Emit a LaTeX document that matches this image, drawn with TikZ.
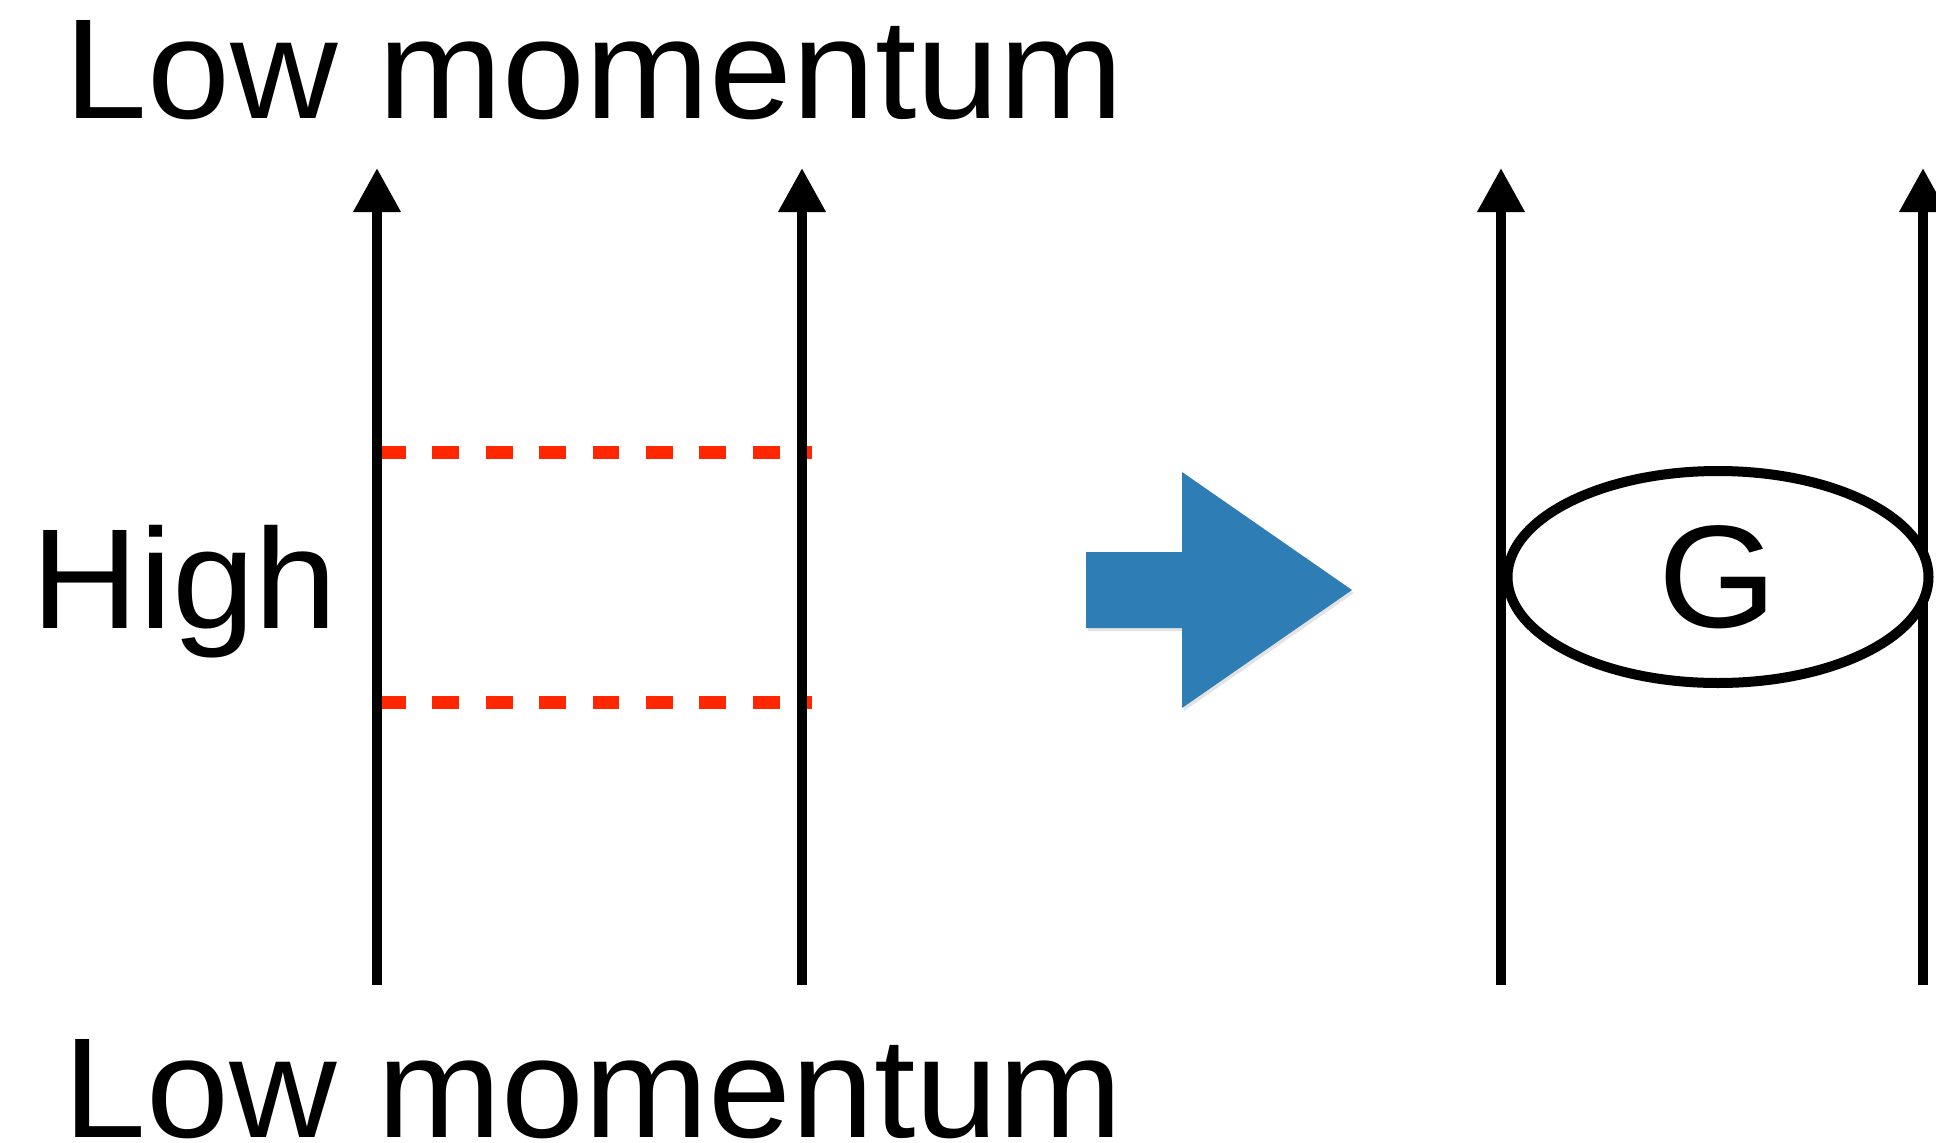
\documentclass[tikz,border=0pt]{standalone}
\usepackage{fontspec}
\setmainfont{Liberation Sans}[FakeStretch=1.045]
\usetikzlibrary{arrows.meta,shapes.geometric,shadows}
\definecolor{dashred}{RGB}{255,38,0}
\definecolor{arrowblue}{RGB}{46,125,180}
\tikzset{
  wire/.style={line width=10pt,-{Triangle[length=44pt,width=45pt]}},
  redlink/.style={line width=13pt,dashred,dash pattern=on 26.7pt off 26.7pt},
  bigtext/.style={inner sep=0pt,outer sep=0pt,anchor=base west,font=\fontsize{142.5}{150}\selectfont},
  vertex/.style={ellipse,draw=black,line width=10pt,fill=white,inner sep=0pt,
    minimum width=421pt,minimum height=212pt,font=\fontsize{146}{150}\selectfont,
    drop shadow={opacity=0.18,shadow xshift=0pt,shadow yshift=-4pt}},
  fatarrow/.style={fill=arrowblue,draw=none,
    drop shadow={opacity=0.22,shadow xshift=2pt,shadow yshift=-3pt}}
}
\begin{document}
\begin{tikzpicture}[x=1pt,y=-1pt]
\useasboundingbox[fill=white] (0,0) rectangle (1936,1143);

% labels
\node[bigtext] (lowtop) at (64.6,118) {Low momentum};
\node[bigtext] (lowbot) at (63.5,1137) {Low momentum};
\node[bigtext] (high) at (31.5,628) {High};

% left diagram coordinates
\coordinate (a1b) at (377,985);
\coordinate (a1t) at (377,168);
\coordinate (a2b) at (802,985);
\coordinate (a2t) at (802,168);
\coordinate (d1s) at (379,452);
\coordinate (d1e) at (812,452);
\coordinate (d2s) at (379,702);
\coordinate (d2e) at (812,702);

\draw[redlink] (d1s) -- (d1e);
\draw[redlink] (d2s) -- (d2e);
\draw[wire] (a1b) -- (a1t);
\draw[wire] (a2b) -- (a2t);

% blue arrow
\path[fatarrow] (1086,552) -- (1182,552) -- (1182,472) -- (1352,590)
  -- (1182,708) -- (1182,628) -- (1086,628) -- cycle;

% right diagram
\coordinate (b1b) at (1501,985);
\coordinate (b1t) at (1501,168);
\coordinate (b2b) at (1923,985);
\coordinate (b2t) at (1923,168);
\draw[wire] (b1b) -- (b1t);
\draw[wire] (b2b) -- (b2t);

\node[vertex] (G) at (1718,577) {G};
\end{tikzpicture}
\end{document}
